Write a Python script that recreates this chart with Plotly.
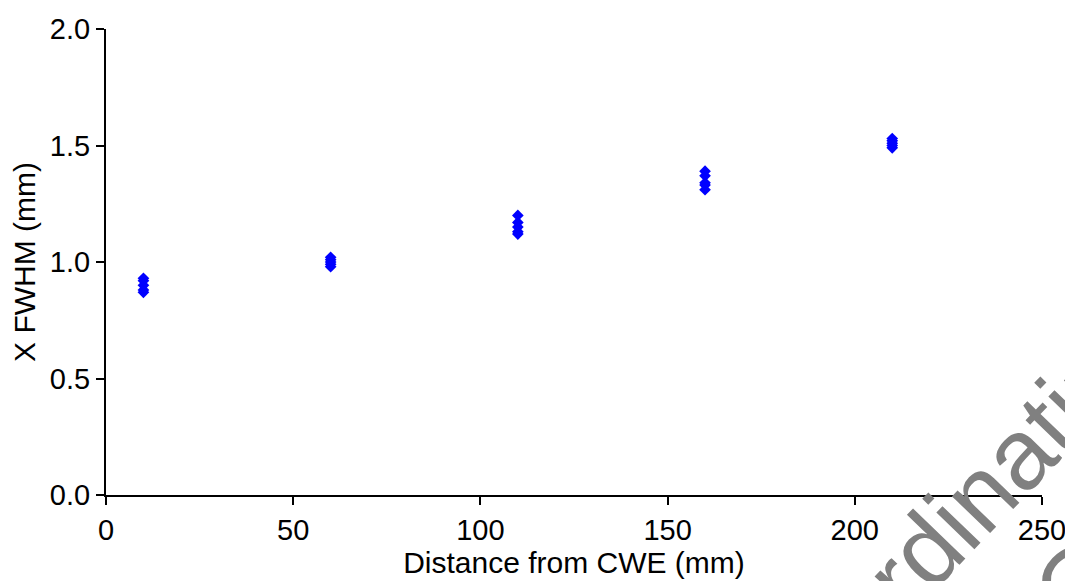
import plotly.graph_objects as go

x_groups = [10, 60, 110, 160, 210]
y_groups = [
    [0.93, 0.92, 0.90, 0.88, 0.87],
    [1.02, 1.01, 1.00, 0.99, 0.98],
    [1.20, 1.17, 1.15, 1.13, 1.12],
    [1.39, 1.37, 1.34, 1.33, 1.31],
    [1.53, 1.52, 1.51, 1.50, 1.49],
]
x_ticks = [0, 50, 100, 150, 200, 250]
y_ticks = [0.0, 0.5, 1.0, 1.5, 2.0]
y_tick_labels = ["0.0", "0.5", "1.0", "1.5", "2.0"]

xs, ys = [], []
for xv, grp in zip(x_groups, y_groups):
    for yv in grp:
        xs.append(xv)
        ys.append(yv)

fig = go.Figure()
fig.add_trace(go.Scatter(
    x=xs, y=ys, mode="markers",
    marker=dict(symbol="diamond", size=9, color="#0000FF", line=dict(width=0)),
    showlegend=False, cliponaxis=False,
))

tick_font = dict(family="Liberation Sans, Arial, sans-serif", size=29, color="black")
title_font = dict(family="Liberation Sans, Arial, sans-serif", size=30, color="black")

# page body has an 8px margin; margins compensate so the plot area sits at x 106-1042, y 29-495
fig.update_layout(
    width=1073, height=581,
    margin=dict(l=98, r=39, t=21, b=94),
    paper_bgcolor="white", plot_bgcolor="white",
    font=tick_font,
    xaxis=dict(
        range=[0, 250], tickvals=x_ticks, ticks="outside", ticklen=8, tickwidth=2,
        tickcolor="black", showline=True, linewidth=2, linecolor="black",
        showgrid=False, zeroline=False, tickfont=tick_font, automargin=False,
        title=dict(text="Distance from CWE (mm)", font=title_font, standoff=4),
    ),
    yaxis=dict(
        range=[0, 2.0], tickvals=y_ticks, ticktext=y_tick_labels, ticks="outside",
        ticklen=8, tickwidth=2, tickcolor="black", showline=True, linewidth=2,
        linecolor="black", showgrid=False, zeroline=False, tickfont=tick_font,
        automargin=False,
        title=dict(text="X FWHM (mm)", font=title_font, standoff=8),
    ),
)

wm_font = dict(family="Liberation Sans, Arial", size=100, color="#808080")
fig.add_annotation(
    text="Coordinating", xref="paper", yref="paper",
    x=(952 - 106) / 936, y=(495 - 522) / 466,
    showarrow=False, textangle=-46, font=wm_font,
    xanchor="center", yanchor="middle",
)
fig.add_annotation(
    text="iC", xref="paper", yref="paper",
    x=(1068 - 106) / 936, y=(495 - 592) / 466,
    showarrow=False, textangle=-46, font=wm_font,
    xanchor="center", yanchor="middle",
)

fig.write_html("out.html")
